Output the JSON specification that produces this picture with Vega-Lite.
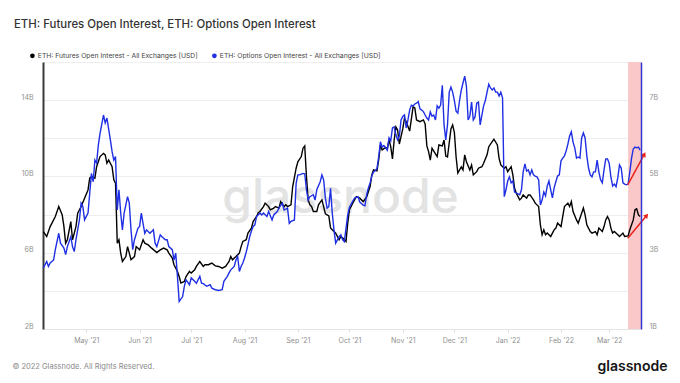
{
  "$schema": "https://vega.github.io/schema/vega-lite/v6.json",
  "width": 598,
  "height": 267,
  "autosize": {"type": "none"},
  "padding": {"left": 43, "top": 62, "right": 39, "bottom": 54},
  "background": "#ffffff",
  "title": {
    "text": "ETH: Futures Open Interest, ETH: Options Open Interest",
    "anchor": "start",
    "frame": "group",
    "dx": -29,
    "dy": -18,
    "font": "Inter",
    "fontSize": 11.4,
    "fontWeight": 500,
    "color": "#333333"
  },
  "datasets": {
    "futures": [
      {"date": "2021-04-06", "oi_bn": 7.11}, {"date": "2021-04-08", "oi_bn": 6.85}, {"date": "2021-04-10", "oi_bn": 7.37},
      {"date": "2021-04-13", "oi_bn": 7.90}, {"date": "2021-04-15", "oi_bn": 8.42}, {"date": "2021-04-17", "oi_bn": 7.98},
      {"date": "2021-04-18", "oi_bn": 7.37}, {"date": "2021-04-19", "oi_bn": 6.50}, {"date": "2021-04-20", "oi_bn": 6.68},
      {"date": "2021-04-22", "oi_bn": 7.63}, {"date": "2021-04-23", "oi_bn": 6.68}, {"date": "2021-04-25", "oi_bn": 7.37},
      {"date": "2021-04-26", "oi_bn": 8.07}, {"date": "2021-04-28", "oi_bn": 8.42}, {"date": "2021-04-30", "oi_bn": 8.86},
      {"date": "2021-05-02", "oi_bn": 9.29}, {"date": "2021-05-03", "oi_bn": 9.91}, {"date": "2021-05-04", "oi_bn": 9.99},
      {"date": "2021-05-06", "oi_bn": 9.91}, {"date": "2021-05-07", "oi_bn": 10.51}, {"date": "2021-05-09", "oi_bn": 11.04},
      {"date": "2021-05-11", "oi_bn": 11.21}, {"date": "2021-05-12", "oi_bn": 11.13}, {"date": "2021-05-13", "oi_bn": 10.69},
      {"date": "2021-05-14", "oi_bn": 10.86}, {"date": "2021-05-16", "oi_bn": 10.51}, {"date": "2021-05-17", "oi_bn": 9.82},
      {"date": "2021-05-18", "oi_bn": 9.64}, {"date": "2021-05-19", "oi_bn": 6.50}, {"date": "2021-05-20", "oi_bn": 6.68},
      {"date": "2021-05-21", "oi_bn": 5.98}, {"date": "2021-05-22", "oi_bn": 5.54}, {"date": "2021-05-24", "oi_bn": 5.80},
      {"date": "2021-05-25", "oi_bn": 6.32}, {"date": "2021-05-26", "oi_bn": 5.98}, {"date": "2021-05-27", "oi_bn": 5.63},
      {"date": "2021-05-29", "oi_bn": 5.80}, {"date": "2021-05-30", "oi_bn": 6.32}, {"date": "2021-06-01", "oi_bn": 6.15},
      {"date": "2021-06-03", "oi_bn": 6.68}, {"date": "2021-06-04", "oi_bn": 6.50}, {"date": "2021-06-06", "oi_bn": 6.41},
      {"date": "2021-06-08", "oi_bn": 6.24}, {"date": "2021-06-11", "oi_bn": 6.01}, {"date": "2021-06-13", "oi_bn": 6.15},
      {"date": "2021-06-15", "oi_bn": 6.24}, {"date": "2021-06-17", "oi_bn": 6.15}, {"date": "2021-06-18", "oi_bn": 5.98},
      {"date": "2021-06-20", "oi_bn": 5.72}, {"date": "2021-06-21", "oi_bn": 5.37}, {"date": "2021-06-23", "oi_bn": 5.02},
      {"date": "2021-06-24", "oi_bn": 4.75}, {"date": "2021-06-25", "oi_bn": 4.41}, {"date": "2021-06-27", "oi_bn": 4.49},
      {"date": "2021-06-28", "oi_bn": 4.75}, {"date": "2021-06-30", "oi_bn": 5.02}, {"date": "2021-07-01", "oi_bn": 4.93},
      {"date": "2021-07-03", "oi_bn": 5.10}, {"date": "2021-07-04", "oi_bn": 5.28}, {"date": "2021-07-06", "oi_bn": 5.54},
      {"date": "2021-07-08", "oi_bn": 5.28}, {"date": "2021-07-09", "oi_bn": 5.37}, {"date": "2021-07-11", "oi_bn": 5.37},
      {"date": "2021-07-13", "oi_bn": 5.46}, {"date": "2021-07-15", "oi_bn": 5.31}, {"date": "2021-07-17", "oi_bn": 5.28},
      {"date": "2021-07-19", "oi_bn": 5.19}, {"date": "2021-07-21", "oi_bn": 5.28}, {"date": "2021-07-23", "oi_bn": 5.54},
      {"date": "2021-07-24", "oi_bn": 5.80}, {"date": "2021-07-25", "oi_bn": 5.63}, {"date": "2021-07-27", "oi_bn": 5.80},
      {"date": "2021-07-29", "oi_bn": 5.98}, {"date": "2021-07-30", "oi_bn": 6.32}, {"date": "2021-07-31", "oi_bn": 6.59},
      {"date": "2021-08-02", "oi_bn": 6.68}, {"date": "2021-08-03", "oi_bn": 7.03}, {"date": "2021-08-05", "oi_bn": 7.29},
      {"date": "2021-08-06", "oi_bn": 7.63}, {"date": "2021-08-08", "oi_bn": 7.90}, {"date": "2021-08-09", "oi_bn": 8.10},
      {"date": "2021-08-10", "oi_bn": 8.16}, {"date": "2021-08-12", "oi_bn": 8.42}, {"date": "2021-08-13", "oi_bn": 8.60},
      {"date": "2021-08-15", "oi_bn": 8.42}, {"date": "2021-08-16", "oi_bn": 8.25}, {"date": "2021-08-18", "oi_bn": 8.34},
      {"date": "2021-08-19", "oi_bn": 8.42}, {"date": "2021-08-21", "oi_bn": 8.34}, {"date": "2021-08-22", "oi_bn": 8.68},
      {"date": "2021-08-24", "oi_bn": 8.42}, {"date": "2021-08-25", "oi_bn": 8.51}, {"date": "2021-08-26", "oi_bn": 8.42},
      {"date": "2021-08-28", "oi_bn": 8.51}, {"date": "2021-08-29", "oi_bn": 9.47}, {"date": "2021-08-31", "oi_bn": 10.43},
      {"date": "2021-09-01", "oi_bn": 10.77}, {"date": "2021-09-03", "oi_bn": 11.04}, {"date": "2021-09-04", "oi_bn": 11.48},
      {"date": "2021-09-05", "oi_bn": 11.60}, {"date": "2021-09-06", "oi_bn": 10.0}, {"date": "2021-09-07", "oi_bn": 8.77},
      {"date": "2021-09-08", "oi_bn": 8.51}, {"date": "2021-09-09", "oi_bn": 8.42}, {"date": "2021-09-10", "oi_bn": 8.16},
      {"date": "2021-09-12", "oi_bn": 8.16}, {"date": "2021-09-13", "oi_bn": 8.51}, {"date": "2021-09-15", "oi_bn": 8.77},
      {"date": "2021-09-16", "oi_bn": 8.42}, {"date": "2021-09-17", "oi_bn": 8.04}, {"date": "2021-09-19", "oi_bn": 7.93},
      {"date": "2021-09-20", "oi_bn": 7.30}, {"date": "2021-09-22", "oi_bn": 7.11}, {"date": "2021-09-23", "oi_bn": 7.03},
      {"date": "2021-09-25", "oi_bn": 6.68}, {"date": "2021-09-26", "oi_bn": 6.85}, {"date": "2021-09-28", "oi_bn": 6.70},
      {"date": "2021-09-29", "oi_bn": 6.59}, {"date": "2021-09-30", "oi_bn": 7.55}, {"date": "2021-10-01", "oi_bn": 8.25},
      {"date": "2021-10-03", "oi_bn": 8.61}, {"date": "2021-10-05", "oi_bn": 8.94}, {"date": "2021-10-07", "oi_bn": 8.86},
      {"date": "2021-10-09", "oi_bn": 8.68}, {"date": "2021-10-11", "oi_bn": 8.93}, {"date": "2021-10-13", "oi_bn": 9.47},
      {"date": "2021-10-14", "oi_bn": 10.08}, {"date": "2021-10-15", "oi_bn": 10.34}, {"date": "2021-10-17", "oi_bn": 10.29},
      {"date": "2021-10-18", "oi_bn": 10.86}, {"date": "2021-10-19", "oi_bn": 11.65}, {"date": "2021-10-20", "oi_bn": 11.39},
      {"date": "2021-10-22", "oi_bn": 11.52}, {"date": "2021-10-23", "oi_bn": 11.44}, {"date": "2021-10-24", "oi_bn": 11.91},
      {"date": "2021-10-25", "oi_bn": 11.56}, {"date": "2021-10-26", "oi_bn": 10.92}, {"date": "2021-10-27", "oi_bn": 11.91},
      {"date": "2021-10-28", "oi_bn": 12.59}, {"date": "2021-10-29", "oi_bn": 12.43}, {"date": "2021-10-30", "oi_bn": 11.70},
      {"date": "2021-11-01", "oi_bn": 12.49}, {"date": "2021-11-02", "oi_bn": 13.05}, {"date": "2021-11-03", "oi_bn": 12.87},
      {"date": "2021-11-05", "oi_bn": 12.38}, {"date": "2021-11-07", "oi_bn": 13.65}, {"date": "2021-11-08", "oi_bn": 13.59},
      {"date": "2021-11-09", "oi_bn": 12.96}, {"date": "2021-11-11", "oi_bn": 12.87}, {"date": "2021-11-13", "oi_bn": 12.96},
      {"date": "2021-11-14", "oi_bn": 12.75}, {"date": "2021-11-15", "oi_bn": 11.60}, {"date": "2021-11-16", "oi_bn": 11.30},
      {"date": "2021-11-17", "oi_bn": 10.86}, {"date": "2021-11-18", "oi_bn": 11.48}, {"date": "2021-11-20", "oi_bn": 11.18},
      {"date": "2021-11-21", "oi_bn": 11.04}, {"date": "2021-11-22", "oi_bn": 11.65}, {"date": "2021-11-24", "oi_bn": 11.60},
      {"date": "2021-11-25", "oi_bn": 11.91}, {"date": "2021-11-26", "oi_bn": 11.07}, {"date": "2021-11-27", "oi_bn": 11.02},
      {"date": "2021-11-29", "oi_bn": 12.49}, {"date": "2021-11-30", "oi_bn": 12.70}, {"date": "2021-12-01", "oi_bn": 12.30},
      {"date": "2021-12-02", "oi_bn": 11.02}, {"date": "2021-12-03", "oi_bn": 10.18}, {"date": "2021-12-05", "oi_bn": 10.50},
      {"date": "2021-12-06", "oi_bn": 10.34}, {"date": "2021-12-07", "oi_bn": 11.13}, {"date": "2021-12-08", "oi_bn": 10.77},
      {"date": "2021-12-10", "oi_bn": 10.34}, {"date": "2021-12-11", "oi_bn": 10.60}, {"date": "2021-12-12", "oi_bn": 10.08},
      {"date": "2021-12-14", "oi_bn": 10.25}, {"date": "2021-12-15", "oi_bn": 10.43}, {"date": "2021-12-17", "oi_bn": 10.51},
      {"date": "2021-12-18", "oi_bn": 10.69}, {"date": "2021-12-20", "oi_bn": 11.13}, {"date": "2021-12-21", "oi_bn": 11.56},
      {"date": "2021-12-23", "oi_bn": 11.82}, {"date": "2021-12-24", "oi_bn": 11.95}, {"date": "2021-12-26", "oi_bn": 11.65},
      {"date": "2021-12-27", "oi_bn": 10.95}, {"date": "2021-12-28", "oi_bn": 10.60}, {"date": "2021-12-30", "oi_bn": 10.43},
      {"date": "2021-12-31", "oi_bn": 10.51}, {"date": "2022-01-01", "oi_bn": 10.25}, {"date": "2022-01-03", "oi_bn": 10.51},
      {"date": "2022-01-04", "oi_bn": 10.08}, {"date": "2022-01-05", "oi_bn": 9.38}, {"date": "2022-01-06", "oi_bn": 9.12},
      {"date": "2022-01-08", "oi_bn": 8.77}, {"date": "2022-01-09", "oi_bn": 8.86}, {"date": "2022-01-10", "oi_bn": 9.03},
      {"date": "2022-01-12", "oi_bn": 8.86}, {"date": "2022-01-13", "oi_bn": 9.03}, {"date": "2022-01-14", "oi_bn": 9.03},
      {"date": "2022-01-16", "oi_bn": 8.77}, {"date": "2022-01-17", "oi_bn": 8.60}, {"date": "2022-01-19", "oi_bn": 8.42},
      {"date": "2022-01-20", "oi_bn": 7.46}, {"date": "2022-01-21", "oi_bn": 6.94}, {"date": "2022-01-22", "oi_bn": 7.20},
      {"date": "2022-01-23", "oi_bn": 6.94}, {"date": "2022-01-24", "oi_bn": 7.03}, {"date": "2022-01-26", "oi_bn": 6.85},
      {"date": "2022-01-27", "oi_bn": 7.03}, {"date": "2022-01-28", "oi_bn": 7.20}, {"date": "2022-01-29", "oi_bn": 7.29},
      {"date": "2022-01-30", "oi_bn": 7.55}, {"date": "2022-02-01", "oi_bn": 7.37}, {"date": "2022-02-02", "oi_bn": 7.90},
      {"date": "2022-02-03", "oi_bn": 8.42}, {"date": "2022-02-05", "oi_bn": 8.60}, {"date": "2022-02-06", "oi_bn": 8.42},
      {"date": "2022-02-07", "oi_bn": 8.68}, {"date": "2022-02-08", "oi_bn": 8.16}, {"date": "2022-02-10", "oi_bn": 7.72},
      {"date": "2022-02-11", "oi_bn": 7.55}, {"date": "2022-02-12", "oi_bn": 7.81}, {"date": "2022-02-14", "oi_bn": 8.34},
      {"date": "2022-02-15", "oi_bn": 7.98}, {"date": "2022-02-16", "oi_bn": 7.46}, {"date": "2022-02-18", "oi_bn": 7.11},
      {"date": "2022-02-19", "oi_bn": 7.03}, {"date": "2022-02-21", "oi_bn": 7.11}, {"date": "2022-02-22", "oi_bn": 6.94},
      {"date": "2022-02-23", "oi_bn": 7.29}, {"date": "2022-02-25", "oi_bn": 7.11}, {"date": "2022-02-26", "oi_bn": 7.37},
      {"date": "2022-02-27", "oi_bn": 7.72}, {"date": "2022-02-28", "oi_bn": 7.90}, {"date": "2022-03-01", "oi_bn": 7.72},
      {"date": "2022-03-02", "oi_bn": 7.29}, {"date": "2022-03-03", "oi_bn": 7.03}, {"date": "2022-03-04", "oi_bn": 7.11},
      {"date": "2022-03-06", "oi_bn": 6.94}, {"date": "2022-03-07", "oi_bn": 6.85}, {"date": "2022-03-09", "oi_bn": 7.03},
      {"date": "2022-03-10", "oi_bn": 6.85}, {"date": "2022-03-12", "oi_bn": 6.88}, {"date": "2022-03-13", "oi_bn": 7.20},
      {"date": "2022-03-15", "oi_bn": 7.72}, {"date": "2022-03-16", "oi_bn": 8.25}, {"date": "2022-03-17", "oi_bn": 8.30},
      {"date": "2022-03-18", "oi_bn": 7.98}, {"date": "2022-03-19", "oi_bn": 7.90}
    ],
    "options": [
      {"date": "2021-04-06", "oi_bn": 2.60}, {"date": "2021-04-08", "oi_bn": 2.77}, {"date": "2021-04-09", "oi_bn": 2.64},
      {"date": "2021-04-10", "oi_bn": 2.73}, {"date": "2021-04-12", "oi_bn": 2.81}, {"date": "2021-04-13", "oi_bn": 3.08},
      {"date": "2021-04-15", "oi_bn": 3.51}, {"date": "2021-04-16", "oi_bn": 3.25}, {"date": "2021-04-18", "oi_bn": 3.12},
      {"date": "2021-04-19", "oi_bn": 2.95}, {"date": "2021-04-20", "oi_bn": 3.16}, {"date": "2021-04-22", "oi_bn": 3.42},
      {"date": "2021-04-23", "oi_bn": 3.16}, {"date": "2021-04-24", "oi_bn": 3.03}, {"date": "2021-04-25", "oi_bn": 3.34},
      {"date": "2021-04-27", "oi_bn": 3.86}, {"date": "2021-04-28", "oi_bn": 4.30}, {"date": "2021-04-29", "oi_bn": 4.21},
      {"date": "2021-04-30", "oi_bn": 3.86}, {"date": "2021-05-02", "oi_bn": 4.04}, {"date": "2021-05-03", "oi_bn": 4.56},
      {"date": "2021-05-04", "oi_bn": 5.08}, {"date": "2021-05-05", "oi_bn": 4.86}, {"date": "2021-05-06", "oi_bn": 5.43},
      {"date": "2021-05-07", "oi_bn": 5.35}, {"date": "2021-05-08", "oi_bn": 5.82}, {"date": "2021-05-09", "oi_bn": 6.13},
      {"date": "2021-05-11", "oi_bn": 6.61}, {"date": "2021-05-12", "oi_bn": 6.40}, {"date": "2021-05-13", "oi_bn": 6.53},
      {"date": "2021-05-15", "oi_bn": 5.96}, {"date": "2021-05-16", "oi_bn": 5.65}, {"date": "2021-05-17", "oi_bn": 5.43},
      {"date": "2021-05-18", "oi_bn": 5.52}, {"date": "2021-05-19", "oi_bn": 4.12}, {"date": "2021-05-20", "oi_bn": 4.65},
      {"date": "2021-05-21", "oi_bn": 4.04}, {"date": "2021-05-22", "oi_bn": 3.60}, {"date": "2021-05-23", "oi_bn": 4.04},
      {"date": "2021-05-25", "oi_bn": 4.47}, {"date": "2021-05-26", "oi_bn": 4.30}, {"date": "2021-05-27", "oi_bn": 3.60},
      {"date": "2021-05-28", "oi_bn": 3.08}, {"date": "2021-05-29", "oi_bn": 3.34}, {"date": "2021-05-31", "oi_bn": 3.64},
      {"date": "2021-06-01", "oi_bn": 3.69}, {"date": "2021-06-02", "oi_bn": 4.04}, {"date": "2021-06-03", "oi_bn": 3.77},
      {"date": "2021-06-04", "oi_bn": 3.51}, {"date": "2021-06-05", "oi_bn": 3.60}, {"date": "2021-06-07", "oi_bn": 3.51},
      {"date": "2021-06-09", "oi_bn": 3.60}, {"date": "2021-06-10", "oi_bn": 3.25}, {"date": "2021-06-11", "oi_bn": 3.16},
      {"date": "2021-06-13", "oi_bn": 3.47}, {"date": "2021-06-14", "oi_bn": 3.42}, {"date": "2021-06-16", "oi_bn": 3.34},
      {"date": "2021-06-17", "oi_bn": 3.34}, {"date": "2021-06-18", "oi_bn": 3.16}, {"date": "2021-06-20", "oi_bn": 3.08},
      {"date": "2021-06-21", "oi_bn": 2.81}, {"date": "2021-06-22", "oi_bn": 2.99}, {"date": "2021-06-23", "oi_bn": 2.38},
      {"date": "2021-06-24", "oi_bn": 1.72}, {"date": "2021-06-26", "oi_bn": 1.85}, {"date": "2021-06-27", "oi_bn": 2.12},
      {"date": "2021-06-28", "oi_bn": 2.29}, {"date": "2021-06-30", "oi_bn": 2.16}, {"date": "2021-07-01", "oi_bn": 2.34},
      {"date": "2021-07-03", "oi_bn": 2.25}, {"date": "2021-07-04", "oi_bn": 2.20}, {"date": "2021-07-06", "oi_bn": 2.38},
      {"date": "2021-07-07", "oi_bn": 2.20}, {"date": "2021-07-08", "oi_bn": 2.19}, {"date": "2021-07-10", "oi_bn": 2.12},
      {"date": "2021-07-12", "oi_bn": 2.16}, {"date": "2021-07-13", "oi_bn": 2.07}, {"date": "2021-07-15", "oi_bn": 2.03},
      {"date": "2021-07-17", "oi_bn": 2.01}, {"date": "2021-07-19", "oi_bn": 2.03}, {"date": "2021-07-20", "oi_bn": 2.25},
      {"date": "2021-07-22", "oi_bn": 2.38}, {"date": "2021-07-23", "oi_bn": 2.47}, {"date": "2021-07-24", "oi_bn": 2.55},
      {"date": "2021-07-26", "oi_bn": 2.64}, {"date": "2021-07-27", "oi_bn": 2.81}, {"date": "2021-07-28", "oi_bn": 2.90},
      {"date": "2021-07-29", "oi_bn": 2.51}, {"date": "2021-07-30", "oi_bn": 2.64}, {"date": "2021-07-31", "oi_bn": 2.73},
      {"date": "2021-08-01", "oi_bn": 2.86}, {"date": "2021-08-02", "oi_bn": 3.02}, {"date": "2021-08-03", "oi_bn": 3.21},
      {"date": "2021-08-04", "oi_bn": 3.42}, {"date": "2021-08-05", "oi_bn": 3.57}, {"date": "2021-08-06", "oi_bn": 3.69},
      {"date": "2021-08-07", "oi_bn": 3.73}, {"date": "2021-08-08", "oi_bn": 3.95}, {"date": "2021-08-10", "oi_bn": 4.04},
      {"date": "2021-08-11", "oi_bn": 3.99}, {"date": "2021-08-12", "oi_bn": 4.04}, {"date": "2021-08-14", "oi_bn": 3.95},
      {"date": "2021-08-15", "oi_bn": 4.08}, {"date": "2021-08-17", "oi_bn": 3.86}, {"date": "2021-08-18", "oi_bn": 3.99},
      {"date": "2021-08-20", "oi_bn": 4.08}, {"date": "2021-08-21", "oi_bn": 4.17}, {"date": "2021-08-23", "oi_bn": 4.30},
      {"date": "2021-08-24", "oi_bn": 4.12}, {"date": "2021-08-26", "oi_bn": 4.17}, {"date": "2021-08-27", "oi_bn": 3.77},
      {"date": "2021-08-28", "oi_bn": 3.82}, {"date": "2021-08-30", "oi_bn": 3.86}, {"date": "2021-08-31", "oi_bn": 4.82},
      {"date": "2021-09-01", "oi_bn": 5.04}, {"date": "2021-09-02", "oi_bn": 5.04}, {"date": "2021-09-04", "oi_bn": 5.08},
      {"date": "2021-09-05", "oi_bn": 5.07}, {"date": "2021-09-06", "oi_bn": 4.65}, {"date": "2021-09-07", "oi_bn": 4.38},
      {"date": "2021-09-08", "oi_bn": 4.47}, {"date": "2021-09-10", "oi_bn": 4.52}, {"date": "2021-09-11", "oi_bn": 4.38},
      {"date": "2021-09-12", "oi_bn": 4.65}, {"date": "2021-09-14", "oi_bn": 4.86}, {"date": "2021-09-15", "oi_bn": 5.04},
      {"date": "2021-09-16", "oi_bn": 4.91}, {"date": "2021-09-17", "oi_bn": 4.43}, {"date": "2021-09-18", "oi_bn": 4.17},
      {"date": "2021-09-19", "oi_bn": 4.21}, {"date": "2021-09-20", "oi_bn": 4.69}, {"date": "2021-09-21", "oi_bn": 4.04},
      {"date": "2021-09-22", "oi_bn": 3.60}, {"date": "2021-09-23", "oi_bn": 3.25}, {"date": "2021-09-25", "oi_bn": 3.42},
      {"date": "2021-09-26", "oi_bn": 3.47}, {"date": "2021-09-27", "oi_bn": 3.34}, {"date": "2021-09-28", "oi_bn": 3.29},
      {"date": "2021-09-29", "oi_bn": 3.64}, {"date": "2021-09-30", "oi_bn": 3.99}, {"date": "2021-10-01", "oi_bn": 4.19},
      {"date": "2021-10-03", "oi_bn": 4.36}, {"date": "2021-10-04", "oi_bn": 4.43}, {"date": "2021-10-06", "oi_bn": 4.47},
      {"date": "2021-10-07", "oi_bn": 4.33}, {"date": "2021-10-09", "oi_bn": 4.25}, {"date": "2021-10-10", "oi_bn": 4.23},
      {"date": "2021-10-11", "oi_bn": 4.52}, {"date": "2021-10-12", "oi_bn": 4.70}, {"date": "2021-10-13", "oi_bn": 4.83},
      {"date": "2021-10-14", "oi_bn": 5.01}, {"date": "2021-10-15", "oi_bn": 5.12}, {"date": "2021-10-16", "oi_bn": 5.15},
      {"date": "2021-10-17", "oi_bn": 5.21}, {"date": "2021-10-18", "oi_bn": 5.51}, {"date": "2021-10-19", "oi_bn": 5.91},
      {"date": "2021-10-20", "oi_bn": 5.77}, {"date": "2021-10-21", "oi_bn": 5.81}, {"date": "2021-10-22", "oi_bn": 5.75},
      {"date": "2021-10-23", "oi_bn": 5.69}, {"date": "2021-10-24", "oi_bn": 6.01}, {"date": "2021-10-25", "oi_bn": 5.93},
      {"date": "2021-10-26", "oi_bn": 6.27}, {"date": "2021-10-27", "oi_bn": 6.30}, {"date": "2021-10-28", "oi_bn": 6.09},
      {"date": "2021-10-29", "oi_bn": 5.96}, {"date": "2021-10-30", "oi_bn": 6.06}, {"date": "2021-10-31", "oi_bn": 6.48},
      {"date": "2021-11-01", "oi_bn": 6.57}, {"date": "2021-11-02", "oi_bn": 6.61}, {"date": "2021-11-03", "oi_bn": 6.27},
      {"date": "2021-11-04", "oi_bn": 6.48}, {"date": "2021-11-05", "oi_bn": 6.74}, {"date": "2021-11-06", "oi_bn": 6.87},
      {"date": "2021-11-07", "oi_bn": 6.85}, {"date": "2021-11-08", "oi_bn": 6.90}, {"date": "2021-11-09", "oi_bn": 6.92},
      {"date": "2021-11-10", "oi_bn": 6.96}, {"date": "2021-11-11", "oi_bn": 6.77}, {"date": "2021-11-12", "oi_bn": 6.74},
      {"date": "2021-11-13", "oi_bn": 6.70}, {"date": "2021-11-14", "oi_bn": 6.61}, {"date": "2021-11-15", "oi_bn": 6.53},
      {"date": "2021-11-16", "oi_bn": 6.48}, {"date": "2021-11-17", "oi_bn": 6.69}, {"date": "2021-11-18", "oi_bn": 6.58},
      {"date": "2021-11-19", "oi_bn": 6.61}, {"date": "2021-11-20", "oi_bn": 6.48}, {"date": "2021-11-21", "oi_bn": 6.85},
      {"date": "2021-11-22", "oi_bn": 6.79}, {"date": "2021-11-23", "oi_bn": 6.87}, {"date": "2021-11-24", "oi_bn": 7.39},
      {"date": "2021-11-25", "oi_bn": 6.35}, {"date": "2021-11-26", "oi_bn": 5.96}, {"date": "2021-11-27", "oi_bn": 6.35},
      {"date": "2021-11-28", "oi_bn": 7.21}, {"date": "2021-11-29", "oi_bn": 7.34}, {"date": "2021-11-30", "oi_bn": 7.21},
      {"date": "2021-12-01", "oi_bn": 6.99}, {"date": "2021-12-02", "oi_bn": 6.71}, {"date": "2021-12-03", "oi_bn": 6.66},
      {"date": "2021-12-04", "oi_bn": 6.99}, {"date": "2021-12-05", "oi_bn": 7.26}, {"date": "2021-12-06", "oi_bn": 7.45},
      {"date": "2021-12-07", "oi_bn": 7.63}, {"date": "2021-12-08", "oi_bn": 7.37}, {"date": "2021-12-09", "oi_bn": 6.48},
      {"date": "2021-12-10", "oi_bn": 6.58}, {"date": "2021-12-11", "oi_bn": 6.95}, {"date": "2021-12-12", "oi_bn": 6.48},
      {"date": "2021-12-13", "oi_bn": 6.56}, {"date": "2021-12-14", "oi_bn": 6.92}, {"date": "2021-12-15", "oi_bn": 6.95},
      {"date": "2021-12-16", "oi_bn": 6.35}, {"date": "2021-12-17", "oi_bn": 6.61}, {"date": "2021-12-18", "oi_bn": 6.85},
      {"date": "2021-12-19", "oi_bn": 6.99}, {"date": "2021-12-20", "oi_bn": 7.21}, {"date": "2021-12-21", "oi_bn": 7.42},
      {"date": "2021-12-22", "oi_bn": 7.32}, {"date": "2021-12-23", "oi_bn": 7.27}, {"date": "2021-12-24", "oi_bn": 7.32},
      {"date": "2021-12-25", "oi_bn": 7.21}, {"date": "2021-12-26", "oi_bn": 7.21}, {"date": "2021-12-27", "oi_bn": 7.11},
      {"date": "2021-12-28", "oi_bn": 7.21}, {"date": "2021-12-29", "oi_bn": 7.06}, {"date": "2021-12-30", "oi_bn": 4.47},
      {"date": "2021-12-31", "oi_bn": 4.65}, {"date": "2022-01-01", "oi_bn": 4.88}, {"date": "2022-01-02", "oi_bn": 4.99},
      {"date": "2022-01-03", "oi_bn": 4.83}, {"date": "2022-01-04", "oi_bn": 4.88}, {"date": "2022-01-05", "oi_bn": 4.59},
      {"date": "2022-01-06", "oi_bn": 4.57}, {"date": "2022-01-07", "oi_bn": 4.54}, {"date": "2022-01-08", "oi_bn": 4.52},
      {"date": "2022-01-09", "oi_bn": 4.65}, {"date": "2022-01-10", "oi_bn": 5.12}, {"date": "2022-01-11", "oi_bn": 5.33},
      {"date": "2022-01-12", "oi_bn": 5.14}, {"date": "2022-01-13", "oi_bn": 5.17}, {"date": "2022-01-14", "oi_bn": 5.04},
      {"date": "2022-01-15", "oi_bn": 5.17}, {"date": "2022-01-16", "oi_bn": 5.04}, {"date": "2022-01-17", "oi_bn": 5.01},
      {"date": "2022-01-18", "oi_bn": 4.99}, {"date": "2022-01-19", "oi_bn": 4.91}, {"date": "2022-01-20", "oi_bn": 4.25},
      {"date": "2022-01-21", "oi_bn": 4.38}, {"date": "2022-01-22", "oi_bn": 4.59}, {"date": "2022-01-23", "oi_bn": 4.49},
      {"date": "2022-01-24", "oi_bn": 4.75}, {"date": "2022-01-25", "oi_bn": 4.88}, {"date": "2022-01-26", "oi_bn": 4.65},
      {"date": "2022-01-27", "oi_bn": 4.44}, {"date": "2022-01-28", "oi_bn": 4.70}, {"date": "2022-01-29", "oi_bn": 4.86},
      {"date": "2022-01-30", "oi_bn": 5.01}, {"date": "2022-01-31", "oi_bn": 5.04}, {"date": "2022-02-01", "oi_bn": 5.41},
      {"date": "2022-02-02", "oi_bn": 5.48}, {"date": "2022-02-03", "oi_bn": 5.54}, {"date": "2022-02-04", "oi_bn": 5.67},
      {"date": "2022-02-05", "oi_bn": 5.85}, {"date": "2022-02-06", "oi_bn": 6.06}, {"date": "2022-02-07", "oi_bn": 6.17},
      {"date": "2022-02-08", "oi_bn": 5.90}, {"date": "2022-02-09", "oi_bn": 5.75}, {"date": "2022-02-10", "oi_bn": 5.48},
      {"date": "2022-02-11", "oi_bn": 5.51}, {"date": "2022-02-12", "oi_bn": 5.48}, {"date": "2022-02-13", "oi_bn": 6.01},
      {"date": "2022-02-14", "oi_bn": 6.14}, {"date": "2022-02-15", "oi_bn": 6.01}, {"date": "2022-02-16", "oi_bn": 5.54},
      {"date": "2022-02-17", "oi_bn": 5.22}, {"date": "2022-02-18", "oi_bn": 5.04}, {"date": "2022-02-19", "oi_bn": 4.99},
      {"date": "2022-02-20", "oi_bn": 5.12}, {"date": "2022-02-21", "oi_bn": 5.12}, {"date": "2022-02-22", "oi_bn": 5.43},
      {"date": "2022-02-23", "oi_bn": 5.12}, {"date": "2022-02-24", "oi_bn": 4.91}, {"date": "2022-02-25", "oi_bn": 4.83},
      {"date": "2022-02-26", "oi_bn": 5.17}, {"date": "2022-02-27", "oi_bn": 5.46}, {"date": "2022-02-28", "oi_bn": 5.46},
      {"date": "2022-03-01", "oi_bn": 5.35}, {"date": "2022-03-02", "oi_bn": 4.99}, {"date": "2022-03-03", "oi_bn": 4.75},
      {"date": "2022-03-04", "oi_bn": 4.80}, {"date": "2022-03-05", "oi_bn": 4.73}, {"date": "2022-03-06", "oi_bn": 4.96},
      {"date": "2022-03-07", "oi_bn": 5.30}, {"date": "2022-03-08", "oi_bn": 5.22}, {"date": "2022-03-09", "oi_bn": 4.83},
      {"date": "2022-03-10", "oi_bn": 4.80}, {"date": "2022-03-11", "oi_bn": 4.78}, {"date": "2022-03-12", "oi_bn": 4.80},
      {"date": "2022-03-13", "oi_bn": 5.12}, {"date": "2022-03-14", "oi_bn": 5.48}, {"date": "2022-03-15", "oi_bn": 5.72},
      {"date": "2022-03-16", "oi_bn": 5.77}, {"date": "2022-03-17", "oi_bn": 5.75}, {"date": "2022-03-18", "oi_bn": 5.77},
      {"date": "2022-03-19", "oi_bn": 5.69}
    ],
    "band": [{"date": "2022-03-12", "date_end": "2022-03-19T12:00:00Z"}],
    "arrow_futures": [
      {"date": "2022-03-11T19:00:00Z", "oi_bn": 6.76, "part": "tail"},
      {"date": "2022-03-22T19:00:00Z", "oi_bn": 7.95, "part": "head"}
    ],
    "arrow_options": [
      {"date": "2022-03-11T19:00:00Z", "oi_bn": 4.78, "part": "tail"},
      {"date": "2022-03-21T10:00:00Z", "oi_bn": 5.58, "part": "head"}
    ]
  },
  "encoding": {
    "x": {
      "field": "date",
      "type": "temporal",
      "scale": {
        "type": "utc",
        "domain": [
          {"year": 2021, "month": 4, "date": 5, "hours": 20, "utc": true},
          {"year": 2022, "month": 3, "date": 19, "hours": 12, "utc": true}
        ]
      },
      "axis": {
        "values": [
          {"year": 2021, "month": 5, "date": 1, "utc": true},
          {"year": 2021, "month": 6, "date": 1, "utc": true},
          {"year": 2021, "month": 7, "date": 1, "utc": true},
          {"year": 2021, "month": 8, "date": 1, "utc": true},
          {"year": 2021, "month": 9, "date": 1, "utc": true},
          {"year": 2021, "month": 10, "date": 1, "utc": true},
          {"year": 2021, "month": 11, "date": 1, "utc": true},
          {"year": 2021, "month": 12, "date": 1, "utc": true},
          {"year": 2022, "month": 1, "date": 1, "utc": true},
          {"year": 2022, "month": 2, "date": 1, "utc": true},
          {"year": 2022, "month": 3, "date": 1, "utc": true}
        ],
        "format": "%b '%y",
        "grid": false,
        "domainColor": "#e4e4e4",
        "tickColor": "#dcdcdc",
        "tickSize": 3,
        "labelFont": "Inter",
        "labelFontSize": 7,
        "labelColor": "#8f8f8f",
        "labelPadding": 4,
        "title": "© 2022 Glassnode. All Rights Reserved.",
        "titleX": -31,
        "titleY": 37,
        "titleAlign": "left",
        "titleBaseline": "middle",
        "titleFont": "Inter",
        "titleFontSize": 7.5,
        "titleFontWeight": "normal",
        "titleColor": "#8a8a8a"
      }
    }
  },
  "layer": [
    {
      "data": {"name": "band"},
      "mark": {"type": "rect", "color": "#fac8c8", "opacity": 1},
      "encoding": {"x2": {"field": "date_end"}}
    },
    {
      "encoding": {
        "y": {
          "field": "oi_bn",
          "type": "quantitative",
          "scale": {"domain": [2, 16]},
          "axis": {
            "orient": "left",
            "values": [2, 4, 6, 8, 10, 12, 14, 16],
            "labelExpr": "datum.value % 4 == 2 ? datum.value + 'B' : ''",
            "grid": true,
            "gridColor": "#eeeeee",
            "gridWidth": 1,
            "ticks": false,
            "tickSize": 0,
            "domainColor": "#3a3a3a",
            "domainWidth": 2,
            "labelFont": "Inter",
            "labelFontSize": 7,
            "labelColor": "#8f8f8f",
            "labelPadding": 10,
            "labelOffset": -3,
            "title": "glassnode",
            "titleAngle": 0,
            "titleX": 297,
            "titleY": 150,
            "titleAlign": "center",
            "titleBaseline": "alphabetic",
            "titleFont": "Inter",
            "titleFontSize": 48,
            "titleFontWeight": 500,
            "titleColor": "#e3e3e3"
          }
        }
      },
      "layer": [
        {
          "data": {"name": "futures"},
          "mark": {"type": "line", "strokeWidth": 1.4},
          "encoding": {
            "color": {
              "datum": "ETH: Futures Open Interest - All Exchanges [USD]",
              "type": "nominal",
              "scale": {
                "domain": ["ETH: Futures Open Interest - All Exchanges [USD]", "ETH: Options Open Interest - All Exchanges [USD]"],
                "range": ["#000000", "#1f2fe4"]
              },
              "legend": {
                "orient": "none",
                "legendX": -14,
                "legendY": -10,
                "direction": "horizontal",
                "title": null,
                "padding": 0,
                "symbolType": "circle",
                "symbolSize": 22,
                "labelFont": "Inter",
                "labelFontSize": 6.8,
                "labelColor": "#444444",
                "labelLimit": 400,
                "labelOffset": 2,
                "columnPadding": 13,
                "encode": {
                  "symbols": {
                    "update": {
                      "fill": {"scale": "color", "field": "value"},
                      "strokeWidth": {"value": 0},
                      "opacity": {"value": 1}
                    }
                  }
                }
              }
            }
          }
        },
        {
          "data": {"name": "arrow_futures"},
          "mark": {"type": "line", "color": "#e8231b", "strokeWidth": 1.5, "clip": false},
          "encoding": {}
        },
        {
          "data": {"name": "arrow_futures"},
          "transform": [{"filter": {"field": "part", "equal": "head"}}],
          "mark": {"type": "point", "shape": "triangle-up", "filled": true, "color": "#e8231b", "size": 30, "angle": 40, "opacity": 1, "clip": false},
          "encoding": {}
        }
      ]
    },
    {
      "encoding": {
        "y": {
          "field": "oi_bn",
          "type": "quantitative",
          "scale": {"domain": [1, 8]},
          "axis": {
            "orient": "right",
            "values": [1, 3, 5, 7],
            "labelExpr": "datum.value + 'B'",
            "grid": false,
            "ticks": false,
            "tickSize": 0,
            "domainColor": "#3434d6",
            "domainWidth": 1.5,
            "labelFont": "Inter",
            "labelFontSize": 7,
            "labelColor": "#8f8f8f",
            "labelPadding": 8,
            "labelOffset": -3,
            "zindex": 1,
            "title": "glassnode",
            "titleAngle": 0,
            "titleX": -9,
            "titleY": 304,
            "titleAlign": "center",
            "titleBaseline": "middle",
            "titleFont": "Inter",
            "titleFontSize": 14,
            "titleFontWeight": 600,
            "titleColor": "#151515"
          }
        }
      },
      "layer": [
        {
          "data": {"name": "options"},
          "mark": {"type": "line", "strokeWidth": 1.4},
          "encoding": {
            "color": {"datum": "ETH: Options Open Interest - All Exchanges [USD]", "type": "nominal"}
          }
        },
        {
          "data": {"name": "arrow_options"},
          "mark": {"type": "line", "color": "#e8231b", "strokeWidth": 1.5, "clip": false},
          "encoding": {}
        },
        {
          "data": {"name": "arrow_options"},
          "transform": [{"filter": {"field": "part", "equal": "head"}}],
          "mark": {"type": "point", "shape": "triangle-up", "filled": true, "color": "#e8231b", "size": 30, "angle": 28, "opacity": 1, "clip": false},
          "encoding": {}
        }
      ]
    }
  ],
  "resolve": {"scale": {"y": "independent"}, "axis": {"y": "independent"}},
  "config": {
    "font": "Inter",
    "view": {"stroke": null}
  }
}
